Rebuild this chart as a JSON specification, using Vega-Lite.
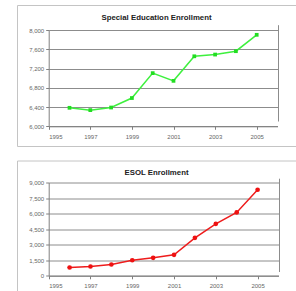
{
  "$schema": "https://vega.github.io/schema/vega-lite/v6.json",
  "padding": {"left": 16, "top": 4, "right": 0, "bottom": 0},
  "background": "white",
  "spacing": 12.5,
  "config": {
    "view": {"stroke": "#c4c4c4", "strokeWidth": 1, "fill": "white"},
    "axis": {
      "domainColor": "#808080",
      "gridColor": "#8c8c8c",
      "tickColor": "#808080",
      "tickSize": 3,
      "labelFont": "Liberation Sans",
      "labelFontSize": 6,
      "labelColor": "#666666",
      "labelPadding": 2,
      "title": null
    },
    "title": {"font": "Liberation Sans", "fontWeight": "bold", "fontSize": 7.8, "color": "#222222", "anchor": "middle", "frame": "group", "baseline": "alphabetic"}
  },
  "datasets": {
    "sped": [
      {"year": 1996, "value": 6384},
      {"year": 1997, "value": 6336},
      {"year": 1998, "value": 6390},
      {"year": 1999, "value": 6587},
      {"year": 2000, "value": 7104},
      {"year": 2001, "value": 6944},
      {"year": 2002, "value": 7454},
      {"year": 2003, "value": 7490},
      {"year": 2004, "value": 7560},
      {"year": 2005, "value": 7900}
    ],
    "esol": [
      {"year": 1996, "value": 800},
      {"year": 1997, "value": 900},
      {"year": 1998, "value": 1090},
      {"year": 1999, "value": 1500},
      {"year": 2000, "value": 1735},
      {"year": 2001, "value": 2020},
      {"year": 2002, "value": 3660},
      {"year": 2003, "value": 5010},
      {"year": 2004, "value": 6110},
      {"year": 2005, "value": 8300}
    ]
  },
  "vconcat": [
    {
      "width": 279,
      "height": 141,
      "title": {"text": "Special Education Enrollment", "offset": -16.5},
      "data": {"name": "sped"},
      "encoding": {
        "x": {"field": "year", "type": "quantitative",
              "scale": {"domain": [1995, 2006], "range": [31.7, 260.5], "nice": false, "zero": false},
              "axis": {"values": [1995, 1997, 1999, 2001, 2003, 2005, 2006], "format": "d", "grid": true,
                       "gridOpacity": {"condition": {"test": "datum.value == 2006", "value": 1}, "value": 0},
                       "labelExpr": "datum.value == 2006 ? '' : datum.label",
                       "tickOpacity": {"condition": {"test": "datum.value == 2006", "value": 0}, "value": 1},
                       "offset": -19.7, "labelPadding": 4}},
        "y": {"field": "value", "type": "quantitative",
              "scale": {"domain": [6000, 8000], "range": [121.3, 25], "nice": false, "zero": false},
              "axis": {"values": [6000, 6400, 6800, 7200, 7600, 8000], "format": ",.0f", "grid": true, "offset": -31.7}}
      },
      "layer": [
        {"mark": {"type": "line", "color": "#3ef03e", "strokeWidth": 1.5}},
        {"mark": {"type": "point", "shape": "square", "filled": true, "color": "#22dd22", "size": 14, "opacity": 1}}
      ]
    },
    {
      "width": 279,
      "height": 133,
      "title": {"text": "ESOL Enrollment", "offset": -16.5},
      "data": {"name": "esol"},
      "encoding": {
        "x": {"field": "year", "type": "quantitative",
              "scale": {"domain": [1995, 2006], "range": [31.7, 261.5], "nice": false, "zero": false},
              "axis": {"values": [1995, 1997, 1999, 2001, 2003, 2005, 2006], "format": "d", "grid": true,
                       "gridOpacity": {"condition": {"test": "datum.value == 2006", "value": 1}, "value": 0},
                       "labelExpr": "datum.value == 2006 ? '' : datum.label",
                       "tickOpacity": {"condition": {"test": "datum.value == 2006", "value": 0}, "value": 1},
                       "offset": -17.7, "labelPadding": 4}},
        "y": {"field": "value", "type": "quantitative",
              "scale": {"domain": [0, 9000], "range": [115.3, 22], "nice": false},
              "axis": {"values": [0, 1500, 3000, 4500, 6000, 7500, 9000], "format": ",.0f", "grid": true, "offset": -31.7}}
      },
      "layer": [
        {"mark": {"type": "line", "color": "#ee1c1c", "strokeWidth": 1.5}},
        {"mark": {"type": "point", "shape": "circle", "filled": true, "color": "#ee1111", "size": 22, "opacity": 1}}
      ]
    }
  ]
}
